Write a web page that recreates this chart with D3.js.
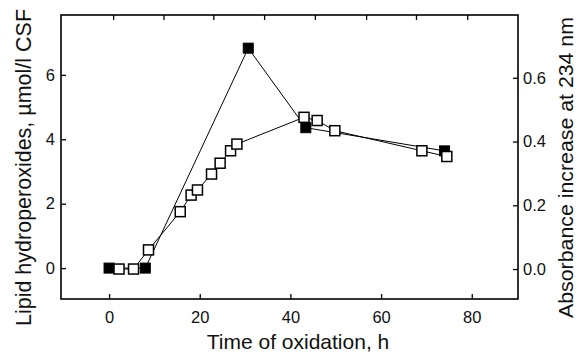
<!DOCTYPE html>
<html>
<head>
<meta charset="utf-8">
<script src="https://cdn.jsdelivr.net/npm/d3@7"></script>
<style>
  html, body { margin: 0; padding: 0; background: #fff; }
  svg { display: block; font-family: "Liberation Sans", Arial, Helvetica, sans-serif; }
</style>
</head>
<body>
<svg id="chart" width="578" height="355"></svg>
<script>
// Lipid hydroperoxides (left axis, filled squares)
const hpTime = [0, 8, 30.7, 43.4, 74];
const hpValue = [0, 0, 6.83, 4.36, 3.64];

// Absorbance increase at 234 nm (right axis, open squares)
const absTime = [2.2, 5.4, 8.7, 15.7, 18.1, 19.5, 22.6, 24.5, 26.8, 28.2, 43.0, 45.9, 49.8, 69.0, 74.5];
const absValue = [0, 0, 0.06, 0.18, 0.232, 0.248, 0.298, 0.332, 0.371, 0.392, 0.476, 0.466, 0.434, 0.371, 0.353];

// Tick values
const xTicks = [0, 20, 40, 60, 80];
const topTicks = [0.9, 12, 23, 34.2, 45.4, 56.7, 67.7, 79];
const leftTicks = [0, 2, 4, 6];
const rightTicks = [0, 0.2, 0.4, 0.6];

const svg = d3.select("#chart");
const L = 61, R = 518, T = 15, B = 299;

const x = d3.scaleLinear().domain([-10.6, 90.2]).range([L, R]);
const yL = d3.scaleLinear().domain([-0.96, 7.86]).range([B, T]);
const yR = d3.scaleLinear().domain([-0.094, 0.797]).range([B, T]);

const tickLen = 5;
const fmt1 = d3.format(".1f");

// Axes (ticks point inward)
svg.append("g").attr("transform", `translate(0,${B})`)
  .call(d3.axisBottom(x).tickValues(xTicks).tickSizeInner(-tickLen).tickSizeOuter(0).tickPadding(12))
  .call(g => g.select(".domain").remove());
svg.append("g").attr("transform", `translate(0,${T})`)
  .call(d3.axisTop(x).tickValues(topTicks).tickSizeInner(-tickLen).tickSizeOuter(0).tickFormat(""))
  .call(g => g.select(".domain").remove());
svg.append("g").attr("transform", `translate(${L},0)`)
  .call(d3.axisLeft(yL).tickValues(leftTicks).tickSizeInner(-tickLen).tickSizeOuter(0).tickPadding(6))
  .call(g => g.select(".domain").remove());
svg.append("g").attr("transform", `translate(${R},0)`)
  .call(d3.axisRight(yR).tickValues(rightTicks).tickSizeInner(-tickLen).tickSizeOuter(0).tickPadding(5).tickFormat(fmt1))
  .call(g => g.select(".domain").remove());

svg.selectAll(".tick line").attr("stroke", "#000").attr("stroke-width", 1.3);
svg.selectAll(".tick text").attr("font-size", 16.5).attr("fill", "#111")
  .attr("font-family", "'Liberation Sans', Arial, sans-serif");

// Frame
svg.append("rect").attr("x", L).attr("y", T).attr("width", R - L).attr("height", B - T)
  .attr("fill", "none").attr("stroke", "#000").attr("stroke-width", 1.6);

// Connecting lines
const lineHp = d3.line().x((d, i) => x(hpTime[i])).y(d => yL(d));
const lineAbs = d3.line().x((d, i) => x(absTime[i])).y(d => yR(d));

svg.append("path").datum(hpValue).attr("d", lineHp)
  .attr("fill", "none").attr("stroke", "#000").attr("stroke-width", 1);
svg.append("path").datum(absValue).attr("d", lineAbs)
  .attr("fill", "none").attr("stroke", "#000").attr("stroke-width", 1);

// Markers
const s = 10;
svg.append("g").selectAll("rect").data(hpValue).join("rect")
  .attr("x", (d, i) => x(hpTime[i]) - s / 2)
  .attr("y", d => yL(d) - s / 2)
  .attr("width", s).attr("height", s)
  .attr("fill", "#000").attr("stroke", "#000").attr("stroke-width", 1);
svg.append("g").selectAll("rect").data(absValue).join("rect")
  .attr("x", (d, i) => x(absTime[i]) - s / 2)
  .attr("y", d => yR(d) - s / 2)
  .attr("width", s).attr("height", s)
  .attr("fill", "#fff").attr("stroke", "#000").attr("stroke-width", 1.5);

// Axis titles
svg.append("text").attr("x", 298).attr("y", 349)
  .attr("text-anchor", "middle").attr("font-size", 21).attr("fill", "#111")
  .text("Time of oxidation, h");
svg.append("text")
  .attr("transform", `translate(31,167.5) rotate(-90)`)
  .attr("text-anchor", "middle").attr("font-size", 21.5).attr("fill", "#111")
  .text("Lipid hydroperoxides, µmol/l CSF");
svg.append("text")
  .attr("transform", `translate(573,167.5) rotate(-90)`)
  .attr("text-anchor", "middle").attr("font-size", 20).attr("fill", "#111")
  .attr("textLength", 301).attr("lengthAdjust", "spacingAndGlyphs")
  .text("Absorbance increase at 234 nm");
</script>
</body>
</html>
